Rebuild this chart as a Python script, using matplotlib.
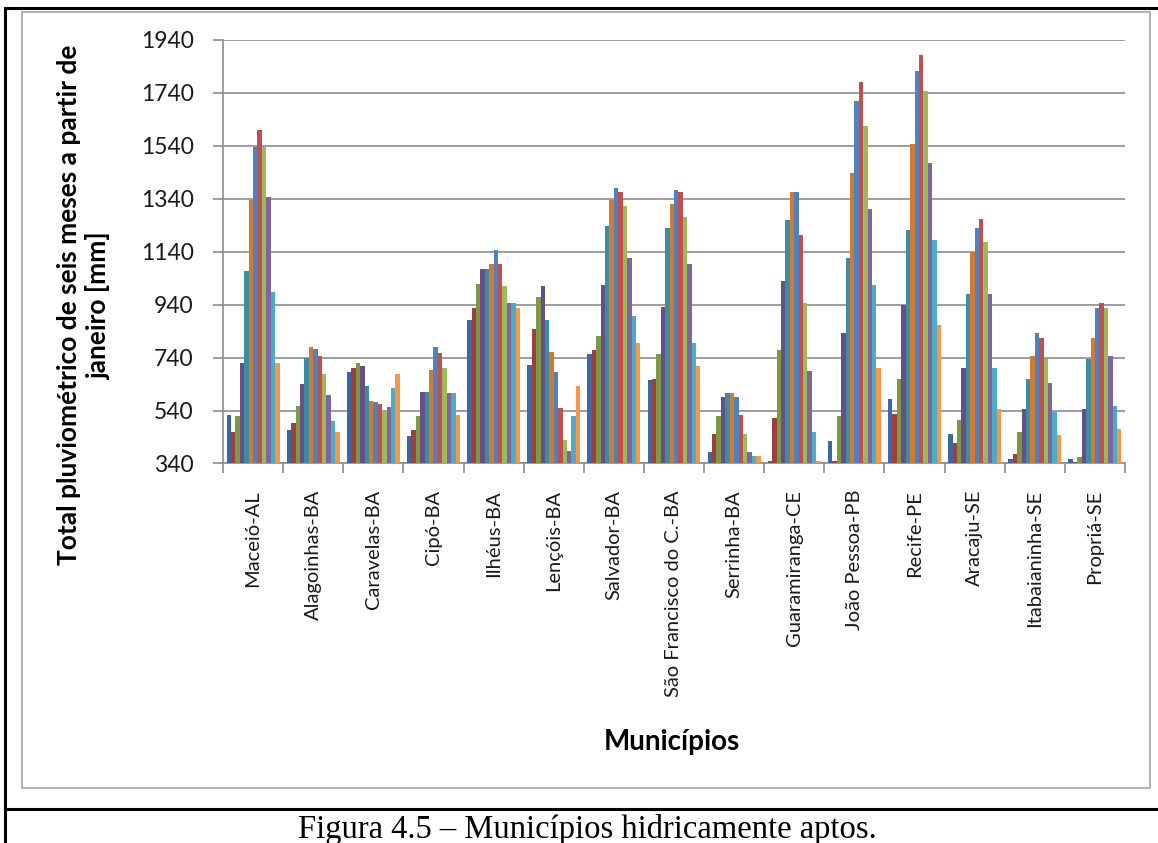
import matplotlib
matplotlib.use("Agg")
import matplotlib.pyplot as plt
import numpy as np
from matplotlib.lines import Line2D
from matplotlib.patches import Rectangle

# Municípios (eixo x)
municipios = ["Maceió-AL", "Alagoinhas-BA", "Caravelas-BA", "Cipó-BA", "Ilhéus-BA",
              "Lençóis-BA", "Salvador-BA", "São Francisco do C.-BA", "Serrinha-BA",
              "Guaramiranga-CE", "João Pessoa-PB", "Recife-PE", "Aracaju-SE",
              "Itabaianinha-SE", "Propriá-SE"]

# 12 barras por município (mm)
maceio = [525, 458, 518, 719, 1069, 1337, 1534, 1599, 1536, 1345, 988, 719]
alagoinhas = [465, 492, 559, 639, 738, 780, 774, 746, 679, 600, 499, 458]
caravelas = [685, 700, 719, 707, 632, 578, 572, 566, 537, 553, 626, 679]
cipo = [443, 465, 518, 612, 612, 692, 780, 759, 700, 606, 606, 525]
ilheus = [881, 929, 1017, 1076, 1076, 1094, 1146, 1094, 1009, 948, 948, 929]
lencois = [713, 847, 969, 1009, 881, 760, 685, 551, 430, 389, 518, 632]
salvador = [755, 767, 821, 1016, 1237, 1337, 1379, 1366, 1312, 1118, 896, 795]
sao_francisco = [654, 660, 755, 931, 1231, 1320, 1373, 1366, 1272, 1095, 795, 707]
serrinha = [385, 452, 518, 593, 606, 606, 593, 525, 452, 383, 370, 370]
guaramiranga = [351, 513, 767, 1029, 1259, 1366, 1366, 1205, 948, 688, 458, 351]
joao_pessoa = [424, 351, 518, 834, 1117, 1439, 1709, 1782, 1615, 1300, 1016, 701]
recife = [585, 528, 660, 938, 1224, 1546, 1823, 1883, 1748, 1474, 1183, 862]
aracaju = [452, 417, 505, 700, 982, 1139, 1231, 1265, 1177, 982, 700, 547]
itabaianinha = [358, 376, 458, 547, 660, 748, 834, 815, 736, 645, 534, 446]
propria = [358, 345, 364, 547, 736, 815, 929, 948, 929, 748, 559, 471]

yticks = [340, 540, 740, 940, 1140, 1340, 1540, 1740, 1940]

cores = ["#3C67A0", "#9D3F3C", "#7D9845", "#674F85", "#3A8DA3", "#CF7B35",
         "#4F81BD", "#C0504D", "#9BBB59", "#8064A2", "#4BACC6", "#F79646"]

tabela = np.array([maceio, alagoinhas, caravelas, cipo, ilheus, lencois, salvador,
                   sao_francisco, serrinha, guaramiranga, joao_pessoa, recife,
                   aracaju, itabaianinha, propria])

W, H = 1158, 843
fig = plt.figure(figsize=(W / 100, H / 100), dpi=100)
fig.patch.set_facecolor("white")

ax = fig.add_axes([223 / W, 1 - 463.5 / H, (1125 - 223) / W, (463.5 - 40) / H])

n_grp, n_ser = tabela.shape
x = np.arange(n_grp)
bw = 0.88 / n_ser
for j in range(n_ser):
    ax.bar(x - 0.44 + bw * (j + 0.5), tabela[:, j], width=bw, color=cores[j],
           edgecolor="none", zorder=3)

ax.set_xlim(-0.5, n_grp - 0.5)
ax.set_ylim(340, 1940)
ax.set_yticks(yticks)
ax.set_yticklabels([str(v) for v in yticks], fontsize=16.5, family="Lato", color="#1a1a1a")
ax.yaxis.grid(True, color="#8C8C8C", linewidth=1.2, zorder=0)

# marcas nos limites dos grupos, rótulos no centro
ax.set_xticks(np.arange(-0.5, n_grp, 1.0))
ax.set_xticklabels([])
ax.set_xticks(x, minor=True)
ax.set_xticklabels(municipios, minor=True, rotation=90, fontsize=14.5,
                   family="Lato", va="top", color="#1a1a1a")
ax.tick_params(axis="x", which="major", length=7, width=1.2, color="#8C8C8C", direction="out")
ax.tick_params(axis="x", which="minor", length=0, pad=19)
ax.tick_params(axis="y", length=7, width=1.2, color="#8C8C8C", direction="out", pad=14)

for s in ["top", "right"]:
    ax.spines[s].set_visible(False)
for s in ["left", "bottom"]:
    ax.spines[s].set_color("#8C8C8C")
    ax.spines[s].set_linewidth(1.2)

fig.text(84 / W, 1 - 305 / H, "Total pluviométrico de seis meses a partir de\njaneiro [mm]",
         rotation=90, ha="center", va="center", multialignment="center",
         fontsize=19, fontweight="bold", family="Lato", linespacing=1.2)
fig.text(672 / W, 1 - 742 / H, "Municípios", ha="center", va="center",
         fontsize=20, fontweight="bold", family="Lato")
fig.text(587 / W, 1 - 838 / H, "Figura 4.5 – Municípios hidricamente aptos.",
         ha="center", va="baseline", fontsize=23.5, family="Liberation Serif")

# moldura cinza do gráfico e linhas pretas da tabela
fig.add_artist(Rectangle((22 / W, 1 - 788 / H), (1150 - 22) / W, (788 - 12) / H,
                         transform=fig.transFigure, fill=False,
                         edgecolor="#A6A6A6", linewidth=1.2))
fig.add_artist(Line2D([5 / W, 5 / W], [0, 1 - 8 / H], transform=fig.transFigure,
                      color="black", linewidth=2.2))
fig.add_artist(Line2D([5 / W, 1], [1 - 8 / H, 1 - 8 / H], transform=fig.transFigure,
                      color="black", linewidth=2.2))
fig.add_artist(Line2D([5 / W, 1], [1 - 809 / H, 1 - 809 / H], transform=fig.transFigure,
                      color="black", linewidth=2.2))

fig.savefig("out.png", dpi=100)
